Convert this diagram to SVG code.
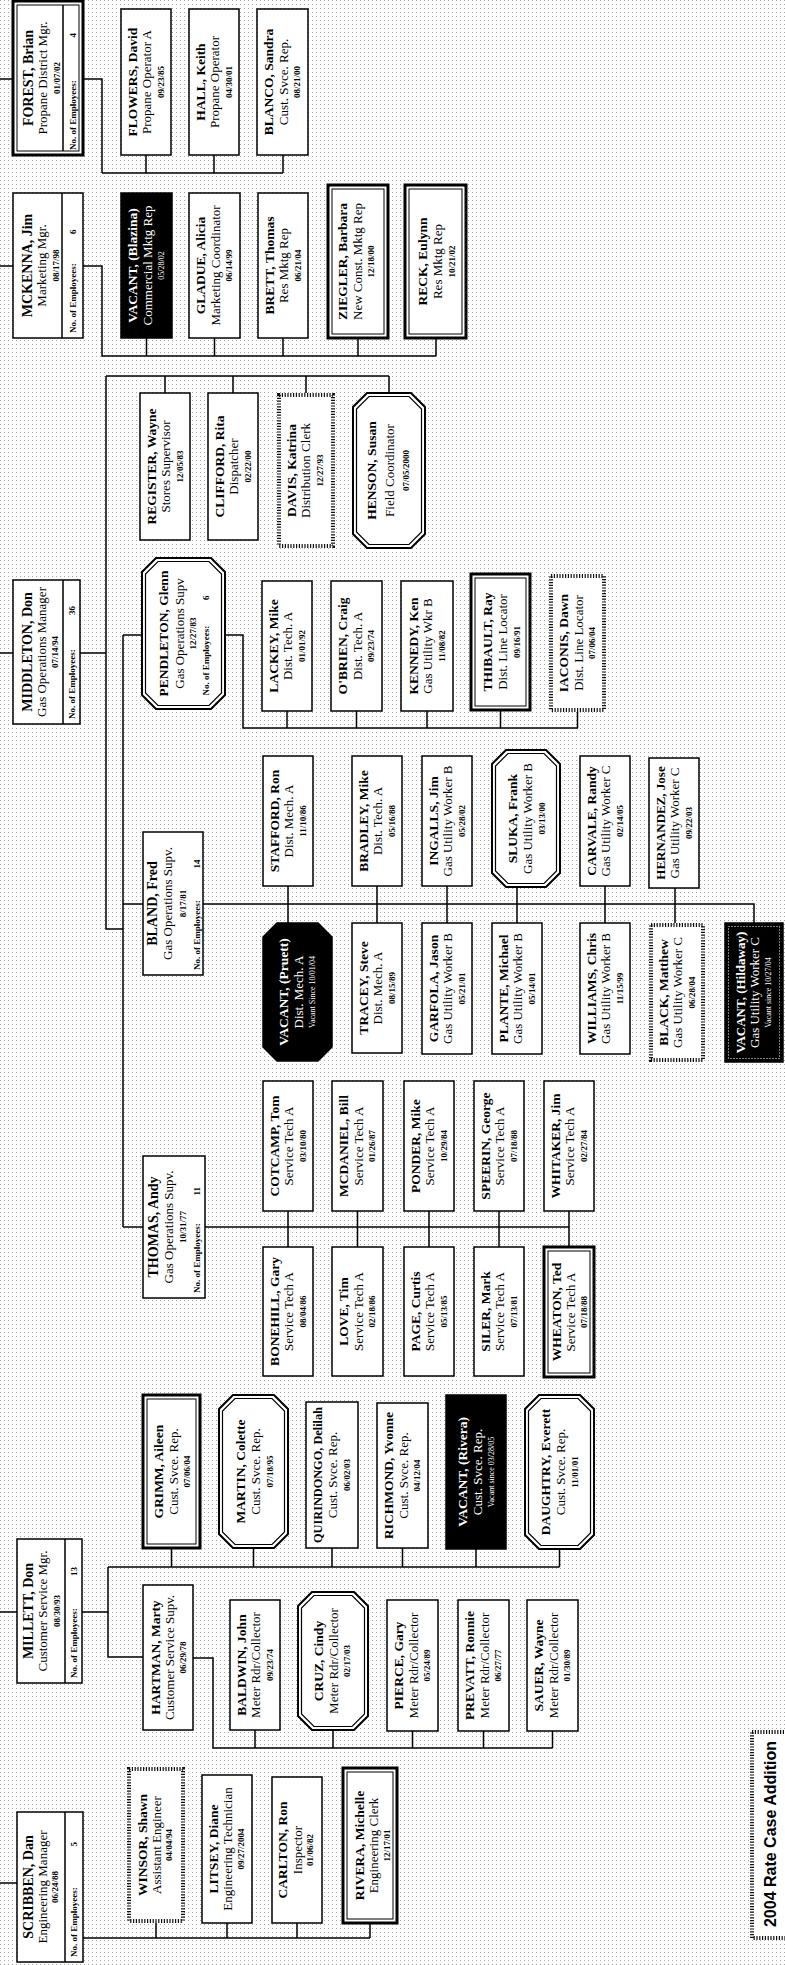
<svg xmlns="http://www.w3.org/2000/svg" width="785" height="1965" viewBox="0 0 785 1965">
<defs>
<pattern id="dots" width="4" height="4" patternUnits="userSpaceOnUse"><rect width="1" height="1" fill="#a6a6a6"/></pattern>
<style>
.bx{fill:#fff;stroke:#000;stroke-width:1.5}
.thk{fill:#fff;stroke:#000;stroke-width:3}
.inr{fill:none;stroke:#000;stroke-width:1}
.oct{fill:#fff;stroke:#000;stroke-width:2}
.octi{fill:none;stroke:#000;stroke-width:1.2}
.dsh{fill:#fff;stroke:#111;stroke-width:4;stroke-dasharray:1.2 1.6}
.blk{fill:#000;stroke:#000;stroke-width:1.5}
.wdot{fill:none;stroke:#fff;stroke-width:1;stroke-dasharray:1 2}
.ln{fill:none;stroke:#000;stroke-width:1.5}
text{font-family:"Liberation Serif","Times New Roman",serif;text-anchor:middle;dominant-baseline:central;fill:#000}
.mg{font-size:14px;font-weight:bold}
.nm{font-size:13.5px;font-weight:bold}
.tt{font-size:13px}
.dt{font-size:9px;font-weight:bold}
.vs{font-size:8px}
.em{font-size:9px;font-weight:bold;text-anchor:start}
.en{font-size:9px;font-weight:bold;text-anchor:end}
.sm{font-size:12.5px}
.wt{fill:#fff}
.lg{font-family:"Liberation Sans",Arial,sans-serif;font-size:16px;font-weight:bold}
</style>
</defs>
<rect width="785" height="1965" fill="#fff"/>
<rect width="785" height="1965" fill="url(#dots)"/>

<!-- reporting lines -->
<g id="connectors">
<path class="ln" d="M0 79H13M0 266H13M0 653H13M0 1612H17M0 1883H17"/>
<path class="ln" d="M83 79H102V173M102 173H283M146 155V173M214 155V173M283 155V173"/>
<path class="ln" d="M83 266H102V356H436M146.5 338V356M214.5 338V356M283 338V356M358 338V356M436 338V356"/>
<path class="ln" d="M80 653H106M106 376V929H123M106 376H389M165 376V393M233 376V393M306 376V393M389 376V393"/>
<path class="ln" d="M123 635V1227M123 635H142M225 635H243V728H578M287 711V728M356.5 711V728M427 711V728M500.5 710V728M577.5 712V728"/>
<path class="ln" d="M123 904H143M203 904H754V923M288 886V923M377 886V923M447 886V923M517 887V923M605 886V923M675 888V923"/>
<path class="ln" d="M123 1227H143M205 1227H569M288 1211V1247M357.5 1211V1247M429 1211V1247M499 1211V1247M569 1211V1247"/>
<path class="ln" d="M82 1612H108M108 1567V1657H143M108 1567H559.5M171.5 1548V1567M253.5 1548V1567M332 1548V1567M402.5 1548V1567M476 1549V1567M559.5 1549V1567"/>
<path class="ln" d="M193 1658H213V1748H552.5M255 1730V1748M333 1730V1748M412.5 1731V1748M483.5 1731V1748M552.5 1731V1748"/>
<path class="ln" d="M83 1938H370M156 1923V1938M227 1923V1938M297 1923V1938M370 1923V1938"/>
</g>

<!-- managers -->
<g id="forest">
<rect class="thk" x="13" y="1" width="70" height="154"/><rect class="inr" x="17" y="5" width="62" height="146"/>
<path class="ln" d="M63 5V151"/>
<g transform="translate(48,78) rotate(-90)"><text class="mg" y="-20">FOREST, Brian</text><text class="tt" y="-6">Propane District Mgr.</text><text class="dt" y="9">01/07/02</text><text class="em" x="-72" y="25">No. of Employees:</text><text class="en" x="45" y="25">4</text></g>
</g>
<g id="mckenna">
<rect class="bx" x="13" y="193" width="70" height="145"/><path class="ln" d="M62 193V338"/>
<g transform="translate(48,265.5) rotate(-90)"><text class="mg" y="-21">MCKENNA, Jim</text><text class="tt" y="-7">Marketing Mgr.</text><text class="dt" y="8">08/17/98</text><text class="em" x="-67.5" y="24.5">No. of Employees:</text><text class="en" x="36" y="24.5">6</text></g>
</g>
<g id="middleton">
<rect class="bx" x="13" y="580" width="67" height="144"/><path class="ln" d="M63 580V724"/>
<g transform="translate(46.5,652) rotate(-90)"><text class="mg" y="-19">MIDDLETON, Don</text><text class="tt" y="-5">Gas Operations Manager</text><text class="dt" y="8">07/14/94</text><text class="em" x="-67" y="25">No. of Employees:</text><text class="en" x="46" y="25">36</text></g>
</g>
<g id="millett">
<rect class="bx" x="17" y="1539" width="65" height="144"/><path class="ln" d="M65 1539V1683"/>
<g transform="translate(49.5,1611) rotate(-90)"><text class="mg" y="-21.5">MILLETT, Don</text><text class="tt" y="-7.5">Customer Service Mgr.</text><text class="dt" y="7">08/30/93</text><text class="em" x="-67" y="24">No. of Employees:</text><text class="en" x="44" y="24">13</text></g>
</g>
<g id="scribben">
<rect class="bx" x="17" y="1812" width="66" height="150"/><path class="ln" d="M65 1812V1962"/>
<g transform="translate(50,1887) rotate(-90)"><text class="mg" y="-22">SCRIBBEN, Dan</text><text class="tt" y="-8">Engineering Manager</text><text class="dt" y="5">06/24/88</text><text class="em" x="-70" y="24">No. of Employees:</text><text class="en" x="45" y="24">5</text></g>
</g>

<!-- propane -->
<g id="flowers"><rect class="bx" x="121" y="9" width="50" height="146"/>
<g transform="translate(146,82) rotate(-90)"><text class="nm" y="-14">FLOWERS, David</text><text class="tt" y="0.5">Propane Operator A</text><text class="dt" y="14.5">09/23/85</text></g></g>
<g id="hall"><rect class="bx" x="189" y="9" width="50" height="146"/>
<g transform="translate(214,82) rotate(-90)"><text class="nm" y="-14">HALL, Keith</text><text class="tt" y="0.5">Propane Operator</text><text class="dt" y="14.5">04/30/01</text></g></g>
<g id="blanco"><rect class="bx" x="257" y="9" width="51" height="146"/>
<g transform="translate(282.5,82) rotate(-90)"><text class="nm" y="-14">BLANCO, Sandra</text><text class="tt" y="0.5">Cust. Svce. Rep.</text><text class="dt" y="14.5">08/21/00</text></g></g>

<!-- marketing -->
<g id="vacant-blazina"><rect class="blk" x="121" y="193" width="51" height="145"/>
<g transform="translate(146.5,265.5) rotate(-90)"><text class="nm wt" y="-14">VACANT, (Blazina)</text><text class="tt wt" y="0.5">Commercial Mktg Rep</text><text class="vs wt" y="15">05/28/02</text></g></g>
<g id="gladue"><rect class="bx" x="189" y="193" width="51" height="145"/>
<g transform="translate(214.5,265.5) rotate(-90)"><text class="nm" y="-14">GLADUE, Alicia</text><text class="tt" y="0.5">Marketing Coordinator</text><text class="dt" y="14.5">06/14/99</text></g></g>
<g id="brett"><rect class="bx" x="258" y="193" width="50" height="145"/>
<g transform="translate(283,265.5) rotate(-90)"><text class="nm" y="-14">BRETT, Thomas</text><text class="tt" y="0.5">Res Mktg Rep</text><text class="dt" y="14.5">06/21/04</text></g></g>
<g id="ziegler"><rect class="thk" x="328" y="185" width="60" height="153"/><rect class="inr" x="332" y="189" width="52" height="145"/>
<g transform="translate(358,261.5) rotate(-90)"><text class="nm" y="-16">ZIEGLER, Barbara</text><text class="tt" y="-1">New Const. Mktg Rep</text><text class="dt" y="13">12/18/00</text></g></g>
<g id="reck"><rect class="thk" x="405" y="185" width="61" height="153"/><rect class="inr" x="409" y="189" width="53" height="145"/>
<g transform="translate(435.5,261.5) rotate(-90)"><text class="nm" y="-13.5">RECK, Eulynn</text><text class="tt" y="1.5">Res Mktg Rep</text><text class="dt" y="16">10/21/02</text></g></g>

<!-- gas operations staff -->
<g id="register"><rect class="bx" x="140" y="393" width="50" height="147"/>
<g transform="translate(165,466.5) rotate(-90)"><text class="nm" y="-14">REGISTER, Wayne</text><text class="tt" y="0.5">Stores Supervisor</text><text class="dt" y="14.5">12/05/83</text></g></g>
<g id="clifford"><rect class="bx" x="208" y="393" width="50" height="147"/>
<g transform="translate(233,466.5) rotate(-90)"><text class="nm" y="-14">CLIFFORD, Rita</text><text class="tt" y="0.5">Dispatcher</text><text class="dt" y="14.5">02/22/00</text></g></g>
<g id="davis"><rect class="dsh" x="279" y="395" width="54" height="151"/>
<g transform="translate(306,470.5) rotate(-90)"><text class="nm" y="-15">DAVIS, Katrina</text><text class="tt" y="-0.5">Distribution Clerk</text><text class="dt" y="14">12/27/93</text></g></g>
<g id="henson"><path class="oct" d="M367 393H411L425 407V534L411 548H367L353 534V407Z"/><path class="octi" d="M369 396.5H409L421.5 409V532L409 544.5H369L356.5 532V409Z"/>
<g transform="translate(389,470.5) rotate(-90)"><text class="nm" y="-18">HENSON, Susan</text><text class="tt" y="0">Field Coordinator</text><text class="dt" y="17">07/05/2000</text></g></g>

<!-- distribution -->
<g id="pendleton"><path class="oct" d="M156 558H211L225 572V695L211 709H156L142 695V572Z"/><path class="octi" d="M158 561.5H209L221.5 574V693L209 705.5H158L145.5 693V574Z"/>
<g transform="translate(183.5,633.5) rotate(-90)"><text class="nm" y="-20.5">PENDLETON, Glenn</text><text class="tt" y="-4">Gas Operations Supv</text><text class="dt" y="9.5">12/27/83</text><text class="em" x="-62" y="22">No. of Employees:</text><text class="en" x="38" y="22">6</text></g></g>
<g id="lackey"><rect class="bx" x="262" y="581" width="50" height="130"/>
<g transform="translate(287,646) rotate(-90)"><text class="nm" y="-14">LACKEY, Mike</text><text class="tt" y="0.5">Dist. Tech. A</text><text class="dt" y="14.5">01/01/92</text></g></g>
<g id="obrien"><rect class="bx" x="331" y="581" width="51" height="130"/>
<g transform="translate(356.5,646) rotate(-90)"><text class="nm" y="-14">O'BRIEN, Craig</text><text class="tt" y="0.5">Dist. Tech. A</text><text class="dt" y="14.5">09/23/74</text></g></g>
<g id="kennedy"><rect class="bx" x="401" y="581" width="52" height="130"/>
<g transform="translate(427,646) rotate(-90)"><text class="nm" y="-14">KENNEDY, Ken</text><text class="tt" y="0.5">Gas Utility Wkr B</text><text class="dt" y="14.5">11/08/82</text></g></g>
<g id="thibault"><rect class="thk" x="471" y="574" width="59" height="136"/><rect class="inr" x="475" y="578" width="51" height="128"/>
<g transform="translate(500.5,642) rotate(-90)"><text class="nm" y="-13.5">THIBAULT, Ray</text><text class="tt" y="1.5">Dist. Line Locator</text><text class="dt" y="16">09/16/91</text></g></g>
<g id="iaconis"><rect class="dsh" x="551" y="576" width="53" height="134"/>
<g transform="translate(577.5,643) rotate(-90)"><text class="nm" y="-14">IACONIS, Dawn</text><text class="tt" y="0.5">Dist. Line Locator</text><text class="dt" y="14.5">07/06/04</text></g></g>

<g id="bland"><rect class="bx" x="143" y="832" width="60" height="143"/>
<g transform="translate(173,903.5) rotate(-90)"><text class="mg" y="-21">BLAND, Fred</text><text class="tt" y="-5.5">Gas Operations Supv.</text><text class="dt" y="9.5">8/17/81</text><text class="em" x="-66.5" y="23.5">No. of Employees:</text><text class="en" x="44" y="23.5">14</text></g></g>
<g id="stafford"><rect class="bx" x="263" y="756" width="50" height="130"/>
<g transform="translate(288,821) rotate(-90)"><text class="nm" y="-14">STAFFORD, Ron</text><text class="tt" y="0.5">Dist. Mech. A</text><text class="dt" y="14.5">11/10/86</text></g></g>
<g id="bradley"><rect class="bx" x="352" y="756" width="50" height="130"/>
<g transform="translate(377,821) rotate(-90)"><text class="nm" y="-14">BRADLEY, Mike</text><text class="tt" y="0.5">Dist. Tech. A</text><text class="dt" y="14.5">05/16/88</text></g></g>
<g id="ingalls"><rect class="bx" x="422" y="756" width="50" height="130"/>
<g transform="translate(447,821) rotate(-90)"><text class="nm" y="-14">INGALLS, Jim</text><text class="tt" y="0.5">Gas Utility Worker B</text><text class="dt" y="14.5">05/28/02</text></g></g>
<g id="sluka"><path class="oct" d="M506 750H546L560 764V873L546 887H506L492 873V764Z"/><path class="octi" d="M508 753.5H544L556.5 766V871L544 883.5H508L495.5 871V766Z"/>
<g transform="translate(526,818.5) rotate(-90)"><text class="nm" y="-14">SLUKA, Frank</text><text class="tt" y="1.5">Gas Utility Worker B</text><text class="dt" y="16">03/13/00</text></g></g>
<g id="carvale"><rect class="bx" x="580" y="756" width="50" height="130"/>
<g transform="translate(605,821) rotate(-90)"><text class="nm" y="-14">CARVALE, Randy</text><text class="tt" y="0.5">Gas Utility Worker C</text><text class="dt" y="14.5">02/14/05</text></g></g>
<g id="hernandez"><rect class="bx" x="649" y="758" width="50" height="130"/>
<g transform="translate(674,823) rotate(-90)"><text class="nm" y="-14" style="font-size:13px">HERNANDEZ, Jose</text><text class="tt" y="0.5">Gas Utility Worker C</text><text class="dt" y="14.5">09/22/03</text></g></g>
<g id="vacant-pruett"><path class="blk" d="M277 923H318L332 937V1047L318 1061H277L263 1047V937Z"/>
<g transform="translate(297.5,992) rotate(-90)"><text class="nm wt" y="-14">VACANT, (Pruett)</text><text class="tt wt" y="0.5">Dist. Mech. A</text><text class="vs wt" y="14.5">Vacant Since 10/01/04</text></g></g>
<g id="tracey"><rect class="bx" x="352" y="923" width="50" height="130"/>
<g transform="translate(377,988) rotate(-90)"><text class="nm" y="-14">TRACEY, Steve</text><text class="tt" y="0.5">Dist. Mech. A</text><text class="dt" y="14.5">08/15/89</text></g></g>
<g id="garfola"><rect class="bx" x="422" y="923" width="50" height="131"/>
<g transform="translate(447,988.5) rotate(-90)"><text class="nm" y="-14">GARFOLA, Jason</text><text class="tt" y="0.5">Gas Utility Worker B</text><text class="dt" y="14.5">05/21/01</text></g></g>
<g id="plante"><rect class="bx" x="492" y="923" width="50" height="131"/>
<g transform="translate(517,988.5) rotate(-90)"><text class="nm" y="-14">PLANTE, Michael</text><text class="tt" y="0.5">Gas Utility Worker B</text><text class="dt" y="14.5">05/14/01</text></g></g>
<g id="williams"><rect class="bx" x="580" y="923" width="50" height="131"/>
<g transform="translate(605,988.5) rotate(-90)"><text class="nm" y="-14">WILLIAMS, Chris</text><text class="tt" y="0.5">Gas Utility Worker B</text><text class="dt" y="14.5">11/15/99</text></g></g>
<g id="black"><rect class="dsh" x="651" y="925" width="52" height="135"/>
<g transform="translate(677,992.5) rotate(-90)"><text class="nm" y="-14">BLACK, Matthew</text><text class="tt" y="0.5">Gas Utility Worker C</text><text class="dt" y="14.5">06/28/04</text></g></g>
<g id="vacant-hildaway"><rect class="blk" x="725" y="923" width="58" height="139"/><rect class="wdot" x="728.5" y="926.5" width="51" height="132"/>
<g transform="translate(754,992.5) rotate(-90)"><text class="nm wt" y="-14" style="font-size:13px">VACANT, (Hildaway)</text><text class="tt wt" y="0.5">Gas Utility Worker C</text><text class="vs wt" y="14.5">Vacant since 10/27/04</text></g></g>

<!-- service -->
<g id="thomas"><rect class="bx" x="143" y="1156" width="62" height="142"/>
<g transform="translate(174,1227) rotate(-90)"><text class="mg" y="-21">THOMAS, Andy</text><text class="tt" y="-6">Gas Operations Supv.</text><text class="dt" y="9">10/31/77</text><text class="em" x="-66" y="23">No. of Employees:</text><text class="en" x="40" y="23">11</text></g></g>
<g id="cotcamp"><rect class="bx" x="263" y="1081" width="50" height="130"/>
<g transform="translate(288,1146) rotate(-90)"><text class="nm" y="-14">COTCAMP, Tom</text><text class="tt" y="0.5">Service Tech A</text><text class="dt" y="14.5">03/10/80</text></g></g>
<g id="mcdaniel"><rect class="bx" x="332" y="1081" width="51" height="130"/>
<g transform="translate(357.5,1146) rotate(-90)"><text class="nm" y="-14">MCDANIEL, Bill</text><text class="tt" y="0.5">Service Tech A</text><text class="dt" y="14.5">01/26/87</text></g></g>
<g id="ponder"><rect class="bx" x="404" y="1081" width="50" height="130"/>
<g transform="translate(429,1146) rotate(-90)"><text class="nm" y="-14">PONDER, Mike</text><text class="tt" y="0.5">Service Tech A</text><text class="dt" y="14.5">10/29/84</text></g></g>
<g id="speerin"><rect class="bx" x="474" y="1081" width="50" height="130"/>
<g transform="translate(499,1146) rotate(-90)"><text class="nm" y="-14">SPEERIN, George</text><text class="tt" y="0.5">Service Tech A</text><text class="dt" y="14.5">07/18/88</text></g></g>
<g id="whitaker"><rect class="bx" x="544" y="1081" width="50" height="130"/>
<g transform="translate(569,1146) rotate(-90)"><text class="nm" y="-14">WHITAKER, Jim</text><text class="tt" y="0.5">Service Tech A</text><text class="dt" y="14.5">02/27/84</text></g></g>
<g id="bonehill"><rect class="bx" x="263" y="1247" width="50" height="129"/>
<g transform="translate(288,1311.5) rotate(-90)"><text class="nm" y="-14">BONEHILL, Gary</text><text class="tt" y="0.5">Service Tech A</text><text class="dt" y="14.5">08/04/86</text></g></g>
<g id="love"><rect class="bx" x="332" y="1247" width="51" height="129"/>
<g transform="translate(357.5,1311.5) rotate(-90)"><text class="nm" y="-14">LOVE, Tim</text><text class="tt" y="0.5">Service Tech A</text><text class="dt" y="14.5">02/18/86</text></g></g>
<g id="page"><rect class="bx" x="404" y="1247" width="50" height="129"/>
<g transform="translate(429,1311.5) rotate(-90)"><text class="nm" y="-14">PAGE, Curtis</text><text class="tt" y="0.5">Service Tech A</text><text class="dt" y="14.5">05/13/85</text></g></g>
<g id="siler"><rect class="bx" x="474" y="1247" width="50" height="129"/>
<g transform="translate(499,1311.5) rotate(-90)"><text class="nm" y="-14">SILER, Mark</text><text class="tt" y="0.5">Service Tech A</text><text class="dt" y="14.5">07/13/81</text></g></g>
<g id="wheaton"><rect class="thk" x="544" y="1247" width="50" height="130"/><rect class="inr" x="548" y="1251" width="42" height="122"/>
<g transform="translate(569,1312) rotate(-90)"><text class="nm" y="-13">WHEATON, Ted</text><text class="tt" y="1">Service Tech A</text><text class="dt" y="14.5">07/18/88</text></g></g>

<!-- customer service -->
<g id="grimm"><rect class="thk" x="143" y="1395" width="57" height="153"/><rect class="inr" x="147" y="1399" width="49" height="145"/>
<g transform="translate(171.5,1471.5) rotate(-90)"><text class="nm" y="-13.5">GRIMM, Aileen</text><text class="tt" y="1.5">Cust. Svce. Rep.</text><text class="dt" y="15">07/06/04</text></g></g>
<g id="martin"><path class="oct" d="M233 1395H274L288 1409V1534L274 1548H233L219 1534V1409Z"/><path class="octi" d="M235 1398.5H272L284.5 1411V1532L272 1544.5H235L222.5 1532V1411Z"/>
<g transform="translate(253.5,1471.5) rotate(-90)"><text class="nm" y="-13.5">MARTIN, Colette</text><text class="tt" y="1.5">Cust. Svce. Rep.</text><text class="dt" y="16">07/18/95</text></g></g>
<g id="quirindongo"><rect class="bx" x="306" y="1402" width="52" height="146"/>
<g transform="translate(332,1475) rotate(-90)"><text class="nm" y="-14" style="font-size:12.3px">QUIRINDONGO, Delilah</text><text class="tt" y="0.5">Cust. Svce. Rep.</text><text class="dt" y="14.5">06/02/03</text></g></g>
<g id="richmond"><rect class="bx" x="377" y="1403" width="51" height="145"/>
<g transform="translate(402.5,1475.5) rotate(-90)"><text class="nm" y="-14">RICHMOND, Yvonne</text><text class="tt" y="0.5">Cust. Svce. Rep.</text><text class="dt" y="14.5">04/12/04</text></g></g>
<g id="vacant-rivera"><rect class="blk" x="446" y="1395" width="60" height="154"/>
<g transform="translate(476,1472) rotate(-90)"><text class="nm wt" y="-14">VACANT, (Rivera)</text><text class="tt wt" y="1">Cust. Svce. Rep.</text><text class="vs wt" y="15">Vacant since 03/28/05</text></g></g>
<g id="daughtry"><path class="oct" d="M539 1395H580L594 1409V1535L580 1549H539L525 1535V1409Z"/><path class="octi" d="M541 1398.5H578L590.5 1411V1533L578 1545.5H541L528.5 1533V1411Z"/>
<g transform="translate(559.5,1472) rotate(-90)"><text class="nm" y="-14.5">DAUGHTRY, Everett</text><text class="tt" y="0.5">Cust. Svce. Rep.</text><text class="dt" y="15.5">11/01/01</text></g></g>
<g id="hartman"><rect class="bx" x="143" y="1585" width="50" height="145"/>
<g transform="translate(168,1657.5) rotate(-90)"><text class="nm" y="-13">HARTMAN, Marty</text><text class="tt" y="1">Customer Service Supv.</text><text class="dt" y="15">06/29/78</text></g></g>
<g id="baldwin"><rect class="bx" x="230" y="1600" width="50" height="130"/>
<g transform="translate(255,1665) rotate(-90)"><text class="nm" y="-14">BALDWIN, John</text><text class="tt" y="0.5">Meter Rdr/Collector</text><text class="dt" y="14.5">09/23/74</text></g></g>
<g id="cruz"><path class="oct" d="M312 1592H354L368 1606V1716L354 1730H312L298 1716V1606Z"/><path class="octi" d="M314 1595.5H352L364.5 1608V1714L352 1726.5H314L301.5 1714V1608Z"/>
<g transform="translate(333,1661) rotate(-90)"><text class="nm" y="-15">CRUZ, Cindy</text><text class="tt" y="0">Meter Rdr/Collector</text><text class="dt" y="14">02/17/03</text></g></g>
<g id="pierce"><rect class="bx" x="387" y="1600" width="51" height="131"/>
<g transform="translate(412.5,1665.5) rotate(-90)"><text class="nm" y="-14">PIERCE, Gary</text><text class="tt" y="0.5">Meter Rdr/Collector</text><text class="dt" y="14.5">05/24/89</text></g></g>
<g id="prevatt"><rect class="bx" x="458" y="1600" width="51" height="131"/>
<g transform="translate(483.5,1665.5) rotate(-90)"><text class="nm" y="-14">PREVATT, Ronnie</text><text class="tt" y="0.5">Meter Rdr/Collector</text><text class="dt" y="14.5">06/27/77</text></g></g>
<g id="sauer"><rect class="bx" x="527" y="1600" width="51" height="131"/>
<g transform="translate(552.5,1665.5) rotate(-90)"><text class="nm" y="-14">SAUER, Wayne</text><text class="tt" y="0.5">Meter Rdr/Collector</text><text class="dt" y="14.5">01/30/89</text></g></g>

<!-- engineering -->
<g id="winsor"><rect class="dsh" x="129" y="1769" width="54" height="152"/>
<g transform="translate(156,1845) rotate(-90)"><text class="nm" y="-14">WINSOR, Shawn</text><text class="tt" y="0.5">Assistant Engineer</text><text class="dt" y="13">04/04/94</text></g></g>
<g id="litsey"><rect class="bx" x="202" y="1775" width="50" height="148"/>
<g transform="translate(227,1849) rotate(-90)"><text class="nm" y="-14">LITSEY, Diane</text><text class="tt" y="0.5">Engineering Technician</text><text class="dt" y="13.5">09/27/2004</text></g></g>
<g id="carlton"><rect class="bx" x="272" y="1777" width="50" height="146"/>
<g transform="translate(297,1850) rotate(-90)"><text class="nm" y="-14.5">CARLTON, Ron</text><text class="tt" y="0">Inspector</text><text class="dt" y="12.5">01/06/82</text></g></g>
<g id="rivera"><rect class="thk" x="343" y="1768" width="54" height="155"/><rect class="inr" x="347" y="1772" width="46" height="147"/>
<g transform="translate(370,1845.5) rotate(-90)"><text class="nm" y="-11">RIVERA, Michelle</text><text class="tt" y="3.5">Engineering Clerk</text><text class="dt" y="17">12/17/01</text></g></g>

<!-- key -->
<g id="legend"><rect class="dsh" x="752" y="1732" width="37" height="206"/>
<text class="lg" transform="translate(770,1834) rotate(-90)">2004 Rate Case Addition</text></g>
</svg>
